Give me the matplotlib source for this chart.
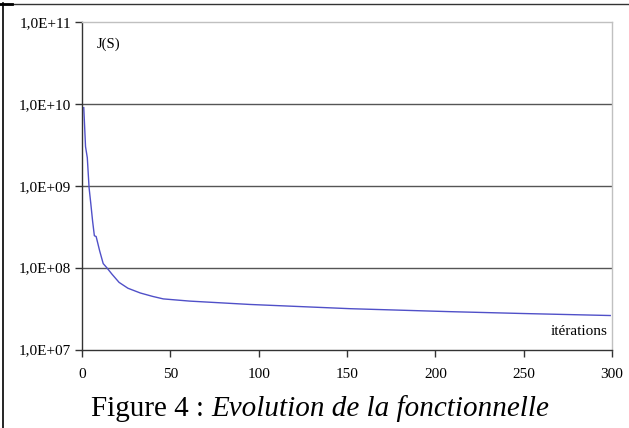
import matplotlib
matplotlib.use("Agg")
import matplotlib.pyplot as plt
from matplotlib.lines import Line2D

iterations = [1, 2, 3, 4, 5, 6, 7, 8, 10, 12, 14, 17, 21, 26, 33, 40, 46, 61, 80, 95, 152, 208, 250, 299]
J_values = [9.0e9, 3.0e9, 2.2e9, 9.5e8, 6.0e8, 3.7e8, 2.45e8, 2.4e8, 1.6e8, 1.12e8, 1.0e8, 8.3e7,
            6.6e7, 5.6e7, 4.9e7, 4.45e7, 4.15e7, 3.9e7, 3.7e7, 3.55e7, 3.15e7, 2.9e7, 2.75e7, 2.6e7]
y_ticks = [1e7, 1e8, 1e9, 1e10, 1e11]
y_tick_labels = ["1,0E+07", "1,0E+08", "1,0E+09", "1,0E+10", "1,0E+11"]
x_ticks = [0, 50, 100, 150, 200, 250, 300]

W, H = 629, 428
fig = plt.figure(figsize=(W / 100, H / 100), dpi=100)
fig.patch.set_facecolor("white")
ax = fig.add_axes([82 / W, 1 - 349.5 / H, (612 - 82) / W, (349.5 - 22) / H])

ax.plot(iterations, J_values, color="#5050c8", lw=1.0)
ax.set_yscale("log")
ax.set_xlim(0, 300)
ax.set_ylim(1e7, 1e11)
ax.set_yticks(y_ticks)
ax.set_yticklabels(y_tick_labels)
ax.yaxis.set_minor_locator(matplotlib.ticker.NullLocator())
ax.set_xticks(x_ticks)
ax.set_xticklabels([str(v) for v in x_ticks])

for v in y_ticks[1:4]:
    ax.axhline(v, color="#555555", lw=1.0, zorder=0)

for s in ["top", "right"]:
    ax.spines[s].set_color("#c0c0c0")
    ax.spines[s].set_linewidth(1.0)
for s in ["left", "bottom"]:
    ax.spines[s].set_color("#333333")
    ax.spines[s].set_linewidth(1.0)

ax.tick_params(axis="both", direction="out", length=5, width=1, color="#333333",
               labelsize=11)
ax.tick_params(axis="y", pad=3)
ax.tick_params(axis="x", pad=8)
for lab in ax.get_xticklabels() + ax.get_yticklabels():
    lab.set_fontfamily("Liberation Serif")

ax.text(0.028, 0.933, "J(S)", transform=ax.transAxes, fontfamily="Liberation Serif",
        fontsize=10.5, ha="left", va="center")
ax.text(0.992, 0.054, "itérations", transform=ax.transAxes, fontfamily="Liberation Serif",
        fontsize=11, ha="right", va="center")

cap_y = 1 - 416 / H
t1 = fig.text(91 / W, cap_y, "Figure 4 : ", fontfamily="Liberation Serif", fontsize=21,
              ha="left", va="baseline")
fig.canvas.draw()
bb = t1.get_window_extent()
fig.text(bb.x1 / W, cap_y, "Evolution de la fonctionnelle", fontfamily="Liberation Serif",
         fontstyle="italic", fontsize=21, ha="left", va="baseline")

fig.add_artist(Line2D([3 / W, 3 / W], [0, 1 - 3 / H], color="black", lw=1.2, transform=fig.transFigure))
fig.add_artist(Line2D([0, 628 / W], [1 - 4 / H, 1 - 4 / H], color="#333333", lw=1.0, transform=fig.transFigure))
fig.add_artist(Line2D([0, 12 / W], [1 - 4 / H, 1 - 4 / H], color="black", lw=2.0, transform=fig.transFigure))

fig.savefig("out.png", dpi=100)
